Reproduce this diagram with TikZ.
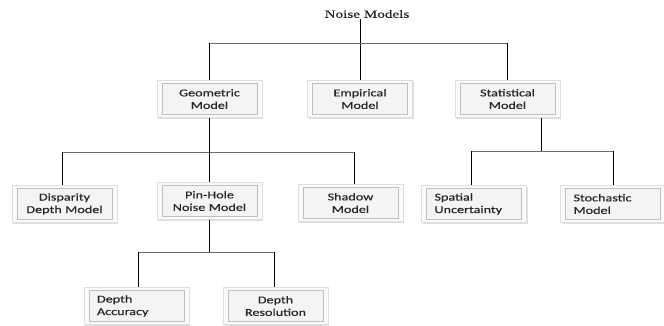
\documentclass[tikz,border=0pt]{standalone}
\usepackage{fontspec}
\usetikzlibrary{shadows}
\newfontfamily\boxfont[FakeStretch=1.35,FakeBold=0.4]{Carlito}
\newfontfamily\titlefont[FakeStretch=1.38,FakeBold=0.3]{Liberation Serif}
\definecolor{linegray}{HTML}{6E6E6E}
\begin{document}
\begin{tikzpicture}[x=1pt,y=-1pt,
  mbox/.style={draw=gray!25, fill=gray!4, minimum height=37pt, inner ysep=0pt,
    inner xsep=13pt, text width=79pt,
    font=\boxfont\fontsize{10.5}{12.5}\selectfont, text=black!85,
    drop shadow={shadow xshift=1.2pt, shadow yshift=-1.8pt, fill=gray!50, opacity=0.5},
    path picture={\draw[gray!50, fill=gray!9]
      ([xshift=5pt,yshift=-3pt]path picture bounding box.north west) rectangle
      ([xshift=-5pt,yshift=3pt]path picture bounding box.south east);}},
  cbox/.style={mbox, align=center},
  lbox/.style={mbox, align=left},
  vline/.style={draw=black, line width=0.8pt},
  hline/.style={draw=linegray, line width=0.8pt}]
\useasboundingbox[fill=white] (0,0) rectangle (664,326);

\node[font=\titlefont\fontsize{11}{13}\selectfont, text=black!85, inner sep=1pt] (title) at (367,14) {Noise Models};

\node[cbox] (geo)  at (209.5,99) {Geometric\\Model};
\node[cbox] (emp)  at (360,99) {Empirical\\Model};
\node[cbox] (stat) at (507.5,99) {Statistical\\Model};

\node[cbox] (disp) at (64.5,204) {Disparity\\Depth Model};
\node[cbox] (pin)  at (209.5,201) {Pin-Hole\\Noise Model};
\node[cbox] (shad) at (350.5,203) {Shadow\\Model};
\node[lbox] (spat) at (474,204) {Spatial\\Uncertainty};
\node[lbox] (stoc) at (613,204) {Stochastic\\Model};

\node[lbox] (dacc) at (136.5,306) {Depth\\Accuracy};
\node[cbox] (dres) at (275.5,306) {Depth\\Resolution};

\coordinate (j1) at (0,43);
\coordinate (j2) at (0,152);
\coordinate (j3) at (0,151);
\coordinate (j4) at (0,252);
\coordinate (sdown) at (541,118);

% level 1
\draw[vline] (emp.north |- title.south) -- (emp.north);
\draw[hline] (geo.north |- j1) -- (stat.north |- j1);
\draw[vline] (geo.north |- j1) -- (geo.north);
\draw[vline] (stat.north |- j1) -- (stat.north);

% geometric children
\draw[hline] ([xshift=-2pt]disp.north |- j2) -- ([xshift=4pt]shad.north |- j2);
\draw[vline] (geo.south) -- (pin.north);
\draw[vline] ([xshift=-2pt]disp.north |- j2) -- ([xshift=-2pt]disp.north);
\draw[vline] ([xshift=4pt]shad.north |- j2) -- ([xshift=4pt]shad.north);

% statistical children
\draw[vline] (sdown) -- (sdown |- j3);
\draw[hline] ([xshift=-3pt]spat.north |- j3) -- (stoc.north |- j3);
\draw[vline] ([xshift=-3pt]spat.north |- j3) -- ([xshift=-3pt]spat.north);
\draw[vline] (stoc.north |- j3) -- (stoc.north);

% pin-hole children
\draw[vline] (pin.south) -- (pin.south |- j4);
\draw[hline] ([xshift=1.5pt]dacc.north |- j4) -- ([xshift=-1.5pt]dres.north |- j4);
\draw[vline] ([xshift=1.5pt]dacc.north |- j4) -- ([xshift=1.5pt]dacc.north);
\draw[vline] ([xshift=-1.5pt]dres.north |- j4) -- ([xshift=-1.5pt]dres.north);
\end{tikzpicture}
\end{document}
